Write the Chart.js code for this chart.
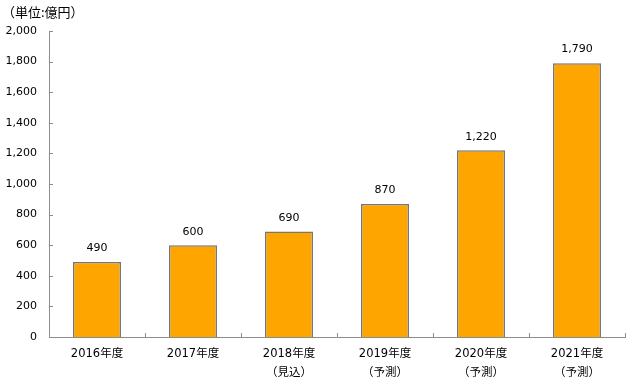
<!DOCTYPE html>
<html>
<head>
<meta charset="utf-8">
<script src="https://cdn.jsdelivr.net/npm/chart.js@4/dist/chart.umd.min.js"></script>
<style>
  html, body { margin: 0; padding: 0; background: #fff; }
  #wrap { width: 631px; height: 386px; position: relative; }
</style>
</head>
<body>
<div id="wrap"><canvas id="salesChart" width="631" height="386"></canvas></div>
<script>
const categories = [
    ["2016年度"],
    ["2017年度"],
    ["2018年度", "（見込）"],
    ["2019年度", "（予測）"],
    ["2020年度", "（予測）"],
    ["2021年度", "（予測）"]
];
const values = [490, 600, 690, 870, 1220, 1790];
const unitLabel = "（単位:億円）";
const yMin = 0, yMax = 2000, yStep = 200;

const FONT = "'DejaVu Sans', 'Noto Sans CJK JP', sans-serif";
const AXIS_GRAY = "#8c8c8c";

// value labels above the bars + unit label + inward tick marks
const decorPlugin = {
    id: "decor",
    afterDatasetsDraw(chart) {
        const ctx = chart.ctx;
        const meta = chart.getDatasetMeta(0);
        ctx.save();
        ctx.font = "11px " + FONT;
        ctx.fillStyle = "#000";
        ctx.textAlign = "center";
        ctx.textBaseline = "bottom";
        meta.data.forEach((bar, i) => {
            ctx.fillText(values[i].toLocaleString("en-US"), bar.x, bar.y - 8);
        });

        ctx.textAlign = "left";
        ctx.textBaseline = "middle";
        ctx.font = "13px 'Noto Sans CJK JP', sans-serif";
        ctx.fillText(unitLabel, 2, 12);

        const x = chart.scales.x, y = chart.scales.y;
        ctx.strokeStyle = AXIS_GRAY;
        ctx.lineWidth = 1;
        ctx.beginPath();
        y.ticks.forEach(t => {
            const py = Math.round(y.getPixelForValue(t.value)) + 0.5;
            ctx.moveTo(y.right, py);
            ctx.lineTo(y.right + 4, py);
        });
        for (let i = 0; i <= categories.length; i++) {
            const px = Math.round(x.left + (x.right - x.left) * i / categories.length) + 0.5;
            ctx.moveTo(px, x.top);
            ctx.lineTo(px, x.top - 4);
        }
        ctx.stroke();
        ctx.restore();
    }
};

new Chart(document.getElementById("salesChart"), {
    type: "bar",
    data: {
        labels: categories,
        datasets: [{
            data: values,
            backgroundColor: "#FFA500",
            borderColor: "#767676",
            borderWidth: 1.5,
            barPercentage: 0.5,
            categoryPercentage: 1.0
        }]
    },
    options: {
        responsive: false,
        animation: false,
        layout: { padding: { top: 31, right: 6, left: 0, bottom: 0 } },
        plugins: {
            legend: { display: false },
            tooltip: { enabled: false }
        },
        scales: {
            x: {
                grid: { display: false },
                border: { color: AXIS_GRAY, width: 1 },
                ticks: {
                    color: "#000",
                    font: { family: FONT, size: 11.5, lineHeight: 1.65 },
                    padding: 0,
                    maxRotation: 0
                },
                afterFit(scale) { scale.height = 49; }
            },
            y: {
                min: yMin,
                max: yMax,
                grid: { display: false },
                border: { color: AXIS_GRAY, width: 1 },
                ticks: {
                    stepSize: yStep,
                    color: "#000",
                    font: { family: FONT, size: 11 },
                    padding: 4,
                    callback: v => v.toLocaleString("en-US")
                },
                afterFit(scale) { scale.width = 49; }
            }
        }
    },
    plugins: [decorPlugin]
});
</script>
</body>
</html>
